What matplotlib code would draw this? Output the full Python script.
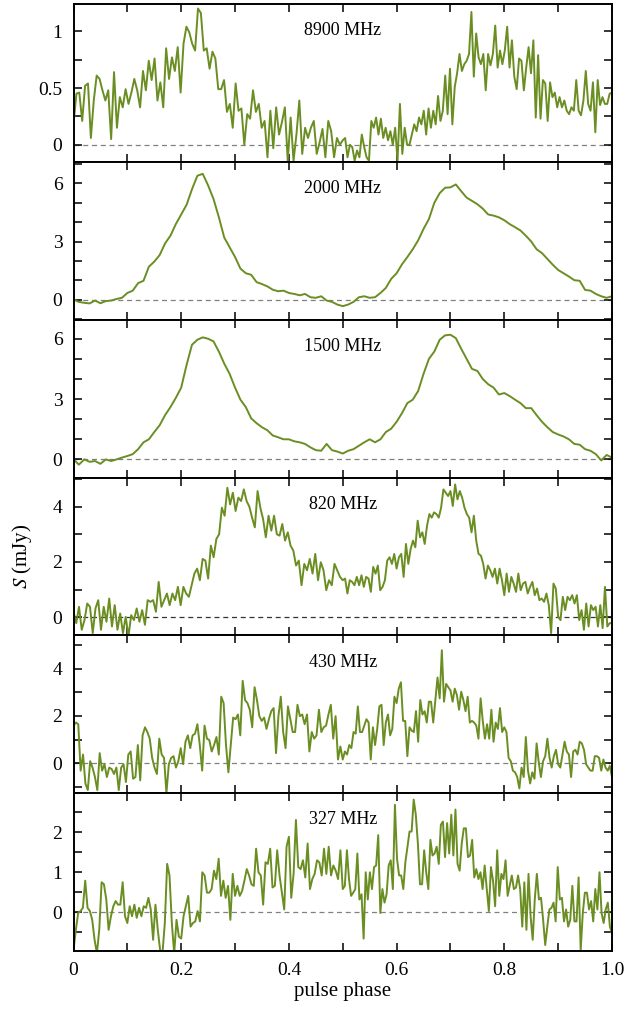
import numpy as np
import matplotlib
matplotlib.use("Agg")
import matplotlib.pyplot as plt
from matplotlib.ticker import MultipleLocator, FormatStrFormatter, FuncFormatter

plt.rcParams['font.family'] = ['Liberation Serif', 'DejaVu Serif']
plt.rcParams['mathtext.fontset'] = 'stix'

freq_labels = ["8900 MHz", "2000 MHz", "1500 MHz", "820 MHz", "430 MHz", "327 MHz"]
x_tick_labels = {0.0: "0", 0.2: "0.2", 0.4: "0.4", 0.6: "0.6", 0.8: "0.8", 1.0: "1.0"}

# ---- 8900 MHz (first half: phase 0-0.5, second half: 0.5-1.0)
s8900_a = [0.18, 0.45, 0.46, 0.21, 0.52, 0.54, 0.06, 0.39, 0.61, 0.58, 0.48, 0.39, 0.48,
           0.05, 0.64, 0.15, 0.42, 0.33, 0.49, 0.36, 0.46, 0.58, 0.48, 0.33, 0.65, 0.48, 0.74,
           0.57, 0.76, 0.39, 0.55, 0.33, 0.85, 0.58, 0.77, 0.65, 0.86, 0.46, 0.89, 1.04, 0.99, 0.89,
           0.83, 1.20, 1.16, 0.83, 0.85, 0.67, 0.82, 0.76, 0.49, 0.49, 0.57, 0.29, 0.36, 0.15, 0.54,
           0.30, 0.32, 0.00, 0.27, 0.23, 0.48, 0.29, 0.36, 0.15, 0.21, -0.11, 0.30, -0.03, 0.33, 0.09,
           0.20, 0.33, -0.14, 0.24, -0.14, 0.09, 0.39, -0.08, 0.15, 0.06, 0.15, 0.21, -0.08, 0.02, 0.14,
           -0.11, 0.21, 0.12, -0.11, 0.06, 0.00]
s8900_b = [0.04, 0.06, -0.11, 0.00, -0.02, -0.14, -0.05, -0.11, 0.09, -0.02, -0.11, -0.14, 0.21, 0.15,
           0.24, 0.09, 0.23, 0.06, 0.15, 0.04, 0.12, 0.00, 0.15, -0.14, 0.36, -0.08, 0.15, 0.00, 0.00,
           0.09, 0.18, 0.12, 0.24, 0.18, 0.30, 0.09, 0.32, 0.15, 0.30, 0.18, 0.43, 0.21, 0.30, 0.61,
           0.27, 0.67, 0.18, 0.51, 0.63, 0.80, 0.65, 0.71, 0.74, 0.80, 1.17, 0.60, 0.98, 0.77, 0.71,
           0.80, 0.48, 0.80, 0.70, 0.80, 1.05, 0.68, 0.83, 0.71, 0.83, 1.04, 0.68, 0.92, 0.60, 0.49,
           0.76, 0.74, 0.48, 0.68, 0.86, 0.63, 0.92, 0.24, 0.79, 0.23, 0.57, 0.54, 0.21, 0.55, 0.42,
           0.46, 0.33, 0.42, 0.33, 0.39, 0.30, 0.27, 0.33, 0.30, 0.57, 0.30, 0.26, 0.39, 0.65, 0.36,
           0.30, 0.55, 0.11, 0.57, 0.35, 0.42, 0.36, 0.36, 0.45, 0.46]

# ---- 2000 MHz
s2000_a = [0.00, -0.12, -0.17, -0.20, -0.05, -0.19, -0.08, -0.05, 0.03, 0.09, 0.34, 0.46, 0.85, 0.97,
           1.70, 1.96, 2.30, 2.90, 3.30, 3.90, 4.40, 4.90, 5.70, 6.40, 6.50, 5.90, 5.20, 4.25, 3.20,
           2.70, 2.20, 1.60, 1.36, 1.28, 0.90, 0.80, 0.68, 0.51, 0.43, 0.46, 0.34, 0.29, 0.22, 0.29,
           0.12, 0.09, 0.17, -0.05, -0.12, -0.26]
s2000_b = [-0.34, -0.26, -0.12, 0.12, 0.17, 0.09, 0.12, 0.34, 0.60, 1.07, 1.36, 1.82, 2.20, 2.60,
           3.06, 3.65, 4.16, 5.00, 5.50, 5.78, 5.80, 5.95, 5.60, 5.27, 5.10, 4.93, 4.70, 4.40, 4.34,
           4.25, 4.10, 3.90, 3.74, 3.57, 3.30, 3.00, 2.60, 2.40, 2.10, 1.80, 1.53, 1.36, 1.19, 1.00,
           0.97, 0.50, 0.46, 0.29, 0.17, 0.09, 0.17]

# ---- 1500 MHz
s1500_a = [0.00, -0.26, 0.00, -0.12, -0.08, -0.22, 0.00, -0.08, 0.00, 0.09, 0.17, 0.26, 0.51, 0.85,
           1.00, 1.36, 1.70, 2.20, 2.60, 3.06, 3.57, 4.70, 5.70, 5.95, 6.07, 6.00, 5.87, 5.36, 4.76,
           4.25, 3.57, 2.97, 2.60, 2.04, 1.80, 1.60, 1.45, 1.19, 1.10, 1.00, 1.00, 0.90, 0.85, 0.77,
           0.60, 0.46, 0.43, 0.77, 0.46, 0.39]
s1500_b = [0.29, 0.43, 0.51, 0.68, 0.85, 1.00, 0.85, 1.00, 1.36, 1.53, 1.87, 2.30, 2.80, 2.97, 3.40,
           4.25, 5.00, 5.36, 5.95, 6.17, 6.20, 6.03, 5.50, 5.00, 4.50, 4.40, 4.00, 3.74, 3.57, 3.23,
           3.30, 3.15, 2.97, 2.80, 2.55, 2.55, 2.20, 1.87, 1.60, 1.36, 1.24, 1.14, 1.00, 0.77, 0.73,
           0.51, 0.43, 0.26, -0.05, 0.22, 0.09]

# ---- 820 MHz
s820_a = [0.20, -0.21, 0.38, -0.45, -0.10, 0.50, 0.38, -0.57, 0.32, 0.62, -0.45, 0.38, -0.16, 0.68,
          -0.33, 0.44, -0.45, 0.14, -0.57, 0.02, -0.69, 0.08, -0.10, 0.32, -0.16, 0.26, -0.27, 0.62,
          0.56, 0.62, 0.20, 1.28, 0.38, 0.62, 0.86, 0.44, 0.86, 0.62, 1.10, 0.44, 1.10, 0.86, 0.74,
          1.16, 1.58, 1.76, 1.34, 2.11, 2.05, 1.40, 2.59, 2.17, 2.83, 3.00, 3.96, 3.67, 4.68, 4.08,
          4.50, 3.84, 4.32, 4.20, 4.62, 4.20, 4.00, 3.60, 3.25, 4.56, 3.96, 3.55, 2.89, 3.67, 3.13,
          3.67, 3.00, 2.95, 3.37, 2.77, 3.07, 2.59, 2.41, 1.87, 2.05, 1.16, 1.93, 1.70, 2.11, 1.58,
          2.29, 1.34, 1.99, 1.70, 0.98, 1.34, 1.16, 1.93, 1.70, 1.46]
s820_b = [1.34, 1.40, 0.86, 1.34, 1.28, 1.16, 1.46, 1.16, 1.52, 1.10, 1.46, 1.40, 0.92, 1.82, 1.58,
          1.87, 0.98, 1.10, 1.34, 2.05, 2.17, 1.93, 2.29, 1.76, 2.17, 2.29, 1.46, 2.65, 1.93, 2.47,
          2.77, 2.53, 3.49, 2.89, 3.07, 2.65, 3.31, 3.73, 3.60, 3.79, 3.73, 3.60, 3.96, 4.62, 4.50,
          4.38, 4.56, 4.02, 4.80, 4.26, 4.56, 4.32, 3.96, 3.73, 3.60, 3.07, 3.67, 2.77, 2.29, 2.23,
          1.93, 1.40, 1.87, 1.70, 1.46, 1.76, 1.22, 1.76, 1.34, 0.80, 1.58, 0.92, 1.46, 1.22, 0.92,
          1.58, 0.98, 1.22, 1.28, 0.86, 1.10, 1.28, 0.80, 1.04, 0.62, 0.68, 0.56, 0.86, 0.44, -0.57,
          1.22, 1.04, 0.02, -0.10, 0.74, 0.26, 0.74, 0.62, 0.80, 0.50, 0.80, -0.10, 0.26, -0.45, 0.50,
          -0.33, 0.44, 0.26, 0.38, -0.33, 0.44, -0.39, 1.10, -0.33, -0.21, -0.21]

# ---- 430 MHz
s430_a = [1.59, 1.72, 1.65, -0.31, 0.37, -0.85, -1.13, 0.09, -0.18, -0.58, -1.13, 0.43, -0.31,
          -0.04, -0.58, -0.18, -0.24, -0.45, -0.18, -1.13, -0.18, -0.04, -0.79, 0.37, 0.50, -0.65,
          -0.58, 0.77, -0.72, 1.18, 1.52, 1.32, 1.04, 0.23, -0.18, -0.45, 1.04, 0.37, 0.23, -1.26,
          -0.04, 0.23, 0.30, -0.18, 0.09, 0.64, -0.04, 0.91, 1.18, 0.64, 1.18, 1.25, 1.65, 0.77,
          -0.31, 1.59, 1.04, 0.98, 0.50, 0.77, 1.11, 0.37, 2.81, 2.54, 0.77, -0.38, 0.77, 1.93,
          1.86, 2.06, 1.18, 3.48, 2.67, 2.54, 2.26, 1.52, 3.21, 2.67, 1.99, 1.79, 1.93, 1.45, 1.86,
          2.20, 2.33, 0.43, 1.99, 2.81, 1.32, 0.64, 2.40, 1.86, 1.32, 1.32, 2.47, 1.99, 2.06, 1.65,
          2.06, 0.50, 1.32, 1.04, 1.18, 2.26, 1.32, 1.52, 1.59, 2.06, 2.47, 1.04, 1.99, 0.16, 0.71]
s430_b = [0.16, 0.50, 0.37, 0.77, 0.64, 1.32, 1.25, 2.40, 1.32, 1.32, 1.59, 1.86, 1.72, 0.16, 1.52,
          0.77, 1.45, 2.40, 2.47, 0.77, 1.72, 2.06, 1.18, 1.45, 2.81, 2.54, 3.15, 3.42, 1.79, 1.79,
          0.30, 1.52, 1.38, 1.32, 2.20, 0.91, 2.67, 2.06, 2.20, 1.72, 2.60, 2.60, 1.72, 2.67, 3.62,
          2.74, 4.77, 2.60, 3.35, 3.21, 3.08, 2.60, 3.15, 2.88, 2.26, 3.02, 2.67, 2.20, 2.81, 1.72,
          1.79, 1.72, 1.59, 1.04, 2.74, 1.79, 1.04, 1.65, 1.04, 2.26, 0.91, 1.72, 1.45, 2.33, 1.32,
          1.52, 1.32, 0.23, 0.09, -0.31, -0.38, -0.58, -1.06, -0.18, -0.58, 1.11, -0.31, -0.85,
          -0.38, -0.65, 0.84, 0.03, -0.58, 0.09, 0.30, 1.04, 0.23, -0.18, 0.30, 0.57, -0.04, -0.18,
          0.37, 0.91, 0.50, 0.37, -0.58, 0.50, 0.57, 0.37, 0.91, 0.84, 0.57, -0.04, -0.18, -0.31,
          -0.31, 0.30, 0.30, 0.23, -0.31, 0.16, -0.18, -0.31, -0.11, -0.58]

# ---- 327 MHz
s327_a = [-0.95, -0.44, -0.02, 0.03, 0.11, 0.79, 0.11, 0.03, -0.19, -0.69, -1.03, -0.44, 0.75, 0.70,
          0.32, -0.44, -0.10, 0.15, 0.28, 0.19, 0.19, 0.75, -0.10, -0.27, 0.15, -0.10, 0.19, -0.14,
          0.11, -0.10, 0.15, 0.11, 0.36, 0.07, -0.69, 0.19, -0.44, -0.95, -1.03, -0.27, 1.21, 0.92,
          -0.27, -1.03, -0.19, -0.61, -0.66, -0.10, 0.15, 0.41, -0.36, -0.27, -0.23, 0.03, -0.23,
          1.00, 0.92, 0.49, 0.49, 0.58, 1.04, 0.83, 1.34, 0.41, 0.79, 0.36, 0.66, -0.19, 0.96, 0.41,
          0.66, 0.41, 0.53, 0.79, 1.08, 0.92, 0.70, 0.66, 1.59, 1.00, 0.92, 0.19, 1.25, 1.21, 1.59,
          0.62, 0.66, 1.55, 0.92, 0.49, 0.07, 1.64, 1.89, 0.36, 0.96, 2.31, 1.13, 1.08, 1.30, 0.87,
          1.72, 0.58, 0.83, 0.96, 1.30, 1.25, 0.92, 1.59, 0.96, 1.64, 0.92, 1.17, 1.04, 0.83, 1.55]
s327_b = [0.58, 0.66, 1.55, 0.83, 0.41, 0.49, 0.58, 1.47, 0.32, 0.45, -0.66, 1.00, 0.32, 1.00, 0.58,
          1.13, 1.17, 1.93, -0.02, 0.58, 0.24, 0.45, 1.17, 1.30, 0.58, 2.69, 1.34, 0.92, 0.92, 0.58,
          1.25, 1.64, 2.02, 2.02, 2.82, 2.44, 1.72, 0.70, 0.70, 1.55, 1.00, 0.58, 1.81, 1.42, 1.47,
          1.64, 1.21, 2.19, 2.27, 1.38, 2.23, 1.47, 2.44, 1.42, 2.57, 1.21, 1.04, 1.72, 2.10, 2.10,
          1.38, 1.42, 1.81, 0.87, 1.08, 0.83, 1.00, 0.58, 1.17, 0.58, 0.03, 1.13, 0.79, 0.15, 1.55,
          0.41, 0.96, 0.83, 1.30, 0.41, 0.66, 0.92, 0.58, 0.62, 0.92, 0.58, -0.36, 0.75, -0.44, 0.96,
          -0.10, -0.69, 0.32, 0.96, 0.32, 0.36, -0.19, -0.82, -0.36, 0.07, 0.11, 0.24, -0.23, 1.13,
          0.32, 0.36, -0.23, 0.07, -0.36, -0.19, 0.66, -0.23, -0.23, 0.87, -0.95, -0.02, 0.49, 0.49,
          0.07, 0.28, -0.23, 0.58, 0.07, 1.00, -0.02, -0.27, 0.07, 0.24, -0.36, -0.53]

series = [(s8900_a, s8900_b), (s2000_a, s2000_b), (s1500_a, s1500_b),
          (s820_a, s820_b), (s430_a, s430_b), (s327_a, s327_b)]

y_limits = [(-0.15, 1.24), (-1.04, 7.12), (-0.9, 6.95), (-0.65, 5.05), (-1.26, 5.4), (-0.97, 2.98)]
y_major = [0.5, 3, 3, 2, 2, 1]
y_minor = [0.25, 1, 1, 1, 1, 0.5]

line_color = '#6b8e23'

fig = plt.figure(figsize=(6.32, 10.21), dpi=100)
gs = fig.add_gridspec(6, 1, left=73.5/632, right=612/632, top=1-4/1021, bottom=1-951/1021, hspace=0)


def xfmt(v, pos):
    return x_tick_labels.get(round(v, 1), "")


for i, ((a, b), lab) in enumerate(zip(series, freq_labels)):
    ax = fig.add_subplot(gs[i])
    phase = np.concatenate([np.linspace(0, 0.5, len(a), endpoint=False),
                            np.linspace(0.5, 1.0, len(b))])
    vals = np.concatenate([a, b])
    dash_col = '#333333' if i == 3 else '#808080'
    ax.axhline(0, color=dash_col, lw=0.9, ls=(0, (4, 3)), zorder=1)
    ax.plot(phase, vals, color=line_color, lw=1.4, zorder=2)
    ax.set_xlim(0, 1)
    ax.set_ylim(*y_limits[i])
    ax.xaxis.set_major_locator(MultipleLocator(0.2))
    ax.xaxis.set_minor_locator(MultipleLocator(0.1))
    ax.yaxis.set_major_locator(MultipleLocator(y_major[i]))
    ax.yaxis.set_minor_locator(MultipleLocator(y_minor[i]))
    ax.yaxis.set_major_formatter(FormatStrFormatter('%g'))
    ax.tick_params(which='both', direction='in', top=True, right=True, length=6, width=1.1,
                   labelsize=14, pad=8)
    for sp in ax.spines.values():
        sp.set_linewidth(1.4)
    if i < 5:
        ax.tick_params(labelbottom=False)
    else:
        ax.xaxis.set_major_formatter(FuncFormatter(xfmt))
        ax.set_xlabel('pulse phase', fontsize=15, labelpad=2)
    ax.text(0.5, 0.83, lab, transform=ax.transAxes, ha='center', va='center', fontsize=13)

fig.text(0.035, 1-556/1021, r'$S$ (mJy)', rotation=90, ha='center', va='center', fontsize=15)

fig.savefig('out.png', dpi=100)
